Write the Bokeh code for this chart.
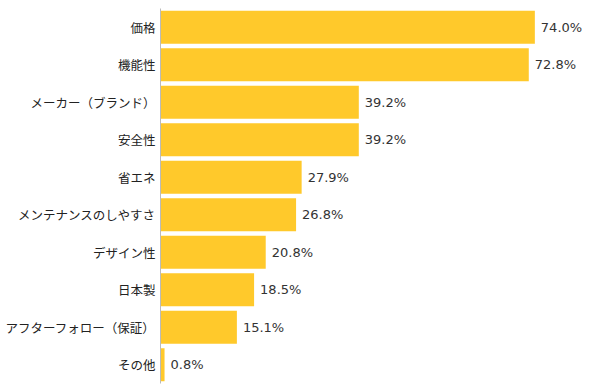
from bokeh.plotting import figure
from bokeh.models import ColumnDataSource, Range1d, FactorRange
from bokeh.embed import file_html
from bokeh.resources import INLINE
from bokeh.core.properties import value

categories = ["価格", "機能性", "メーカー（ブランド）", "安全性", "省エネ",
              "メンテナンスのしやすさ", "デザイン性", "日本製", "アフターフォロー（保証）", "その他"]
values = [74.0, 72.8, 39.2, 39.2, 27.9, 26.8, 20.8, 18.5, 15.1, 0.8]
labels = [f"{v:.1f}%" for v in values]

src = ColumnDataSource(dict(cat=categories, val=values, lab=labels))

p = figure(width=600, height=392, output_backend="svg", toolbar_location=None,
           y_range=FactorRange(*categories[::-1], range_padding=0),
           x_range=Range1d(0, 85),
           min_border_left=160, min_border_right=10, min_border_top=8, min_border_bottom=9)
p.hbar(y="cat", right="val", left=0, height=0.88, source=src, color="#FFC92B", line_color=None)
p.text(x="val", y="cat", text="lab", source=src, x_offset=6, text_align="left",
       text_baseline="middle", text_font=value("DejaVu Sans"), text_font_size="13px",
       text_color="#333333")

p.xaxis.visible = False
p.xgrid.visible = False
p.ygrid.visible = False
p.outline_line_color = None
yax = p.yaxis[0]
yax.major_tick_line_color = None
yax.minor_tick_line_color = None
yax.major_tick_out = 0
yax.major_tick_in = 0
yax.axis_line_color = "#BBBBBB"
yax.major_label_standoff = 5
yax.major_label_text_font = "Noto Sans CJK JP"
yax.major_label_text_font_size = "12.5px"
yax.major_label_text_color = "#222222"

open("out.html", "w").write(file_html(p, INLINE))
